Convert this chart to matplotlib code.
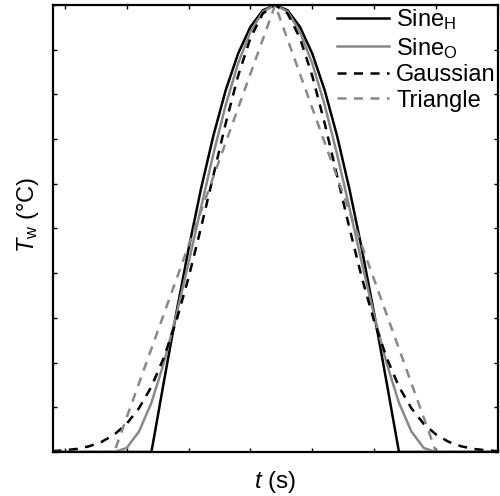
import numpy as np
import matplotlib.pyplot as plt

plt.rcParams['font.family'] = ['Liberation Sans', 'DejaVu Sans']
plt.rcParams['mathtext.fontset'] = 'custom'
plt.rcParams['mathtext.rm'] = 'Liberation Sans'
plt.rcParams['mathtext.it'] = 'Liberation Sans:italic'

# time samples (tick spacing = 1 unit), pulse centred at 3.4
t = np.linspace(-0.2, 7.0, 37)

# normalised wall temperature, right half (from the peak outwards)
sine_h_half = [1.000, 0.988, 0.951, 0.891, 0.809, 0.707, 0.588, 0.454, 0.309, 0.156,
               0.0, 0.0, 0.0, 0.0, 0.0, 0.0, 0.0, 0.0, 0.0]
sine_o_half = [1.000, 0.985, 0.940, 0.869, 0.776, 0.666, 0.546, 0.423, 0.305, 0.199,
               0.110, 0.046, 0.009, 0.0, 0.0, 0.0, 0.0, 0.0, 0.0]
gauss_half = [1.000, 0.981, 0.926, 0.841, 0.735, 0.618, 0.501, 0.390, 0.292, 0.211,
              0.146, 0.098, 0.063, 0.039, 0.023, 0.013, 0.007, 0.004, 0.002]
tri_half = [1.000, 0.923, 0.846, 0.769, 0.692, 0.615, 0.538, 0.462, 0.385, 0.308,
            0.231, 0.154, 0.077, 0.0, 0.0, 0.0, 0.0, 0.0, 0.0]

# curves are symmetric about the peak
sine_h = sine_h_half[:0:-1] + sine_h_half
sine_o = sine_o_half[:0:-1] + sine_o_half
gauss = gauss_half[:0:-1] + gauss_half
tri = tri_half[:0:-1] + tri_half

fig = plt.figure(figsize=(5, 4.96), dpi=100)
ax = fig.add_axes([0.106, 0.0887, 0.89, 0.9013])

dash = (0, (3.6, 3.0))
ax.plot(t, sine_h, color='black', lw=1.8, label=r'Sine$_\mathrm{H}$')
ax.plot(t, sine_o, color='#888888', lw=1.8, label=r'Sine$_\mathrm{O}$')
ax.plot(t, gauss, color='black', lw=1.8, linestyle=dash, label='Gaussian')
ax.plot(t, tri, color='#888888', lw=1.8, linestyle=dash, label='Triangle')

ax.set_xlim(-0.19, 6.97)
ax.set_ylim(0, 1)
ax.set_xticks(np.arange(0, 8))
ax.set_yticks(np.arange(0, 1.01, 0.1))
ax.tick_params(direction='in', length=3, width=1, top=True, right=True,
               labelbottom=False, labelleft=False)
for s in ax.spines.values():
    s.set_linewidth(1.6)

ax.set_xlabel(r'$t$ (s)', fontsize=17.5, labelpad=12)
ax.set_ylabel(r'$T_\mathrm{w}$ ($\degree$C)', fontsize=17)
ax.yaxis.set_label_coords(-0.028, 0.53)

ax.legend(loc='upper right', frameon=False, fontsize=17, handlelength=2.2,
          handletextpad=0.3, labelspacing=0.15, borderaxespad=0.0,
          borderpad=0.1)

plt.savefig('out.png')
